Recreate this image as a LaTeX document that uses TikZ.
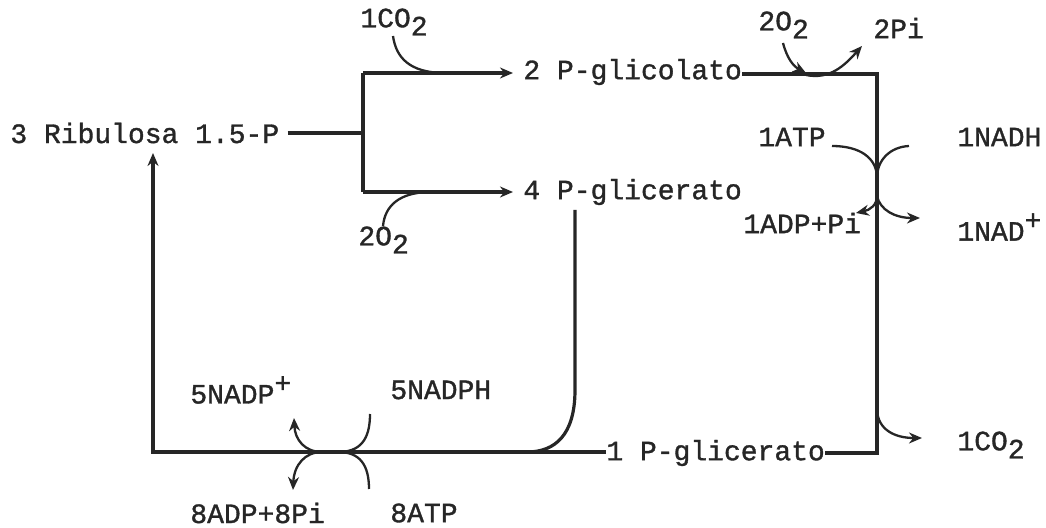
\documentclass[tikz,border=0pt]{standalone}
\usepackage{fontspec}
\setmainfont[FakeBold=1.2,BoldFont={Liberation Mono}]{Liberation Mono}
\usetikzlibrary{arrows.meta}
\newcommand\sbs[1]{\raisebox{-0.55ex}{#1}}
\newcommand\sps[1]{\raisebox{0.75ex}{#1}}
\begin{document}
\begin{tikzpicture}[x=0.5pt,y=-0.5pt,
  lbl/.style={inner sep=0pt,anchor=west,font=\fontsize{14}{16}\selectfont\bfseries,text=black!85},
  mainln/.style={line width=1.6pt,black!85},
  side/.style={line width=1.15pt,black!85},
  tip/.style={-{Stealth[length=6.5pt,width=5.5pt]}}]
\useasboundingbox (0,0) rectangle (1046,528);
% main texts
\node[lbl] (rib) at (10,133) {3 Ribulosa 1.5-P};
\node[lbl] (glc) at (523,72) {2 P-glicolato};
\node[lbl] (gl4) at (523,192) {4 P-glicerato};
\node[lbl] (gl1) at (606,453) {1 P-glicerato};
% small labels
\node[lbl] (co2a) at (360,22) {1CO\sbs{2}};
\node[lbl] (o2a) at (358,240) {2O\sbs{2}};
\node[lbl] (o2b) at (758,25) {2O\sbs{2}};
\node[lbl] (pi2) at (873,28) {2Pi};
\node[lbl] (atp1) at (758,137) {1ATP};
\node[lbl] (nadh) at (957,137) {1NADH};
\node[lbl] (adp1) at (743,223) {1ADP+Pi};
\node[lbl] (nad) at (957,227) {1NAD\sps{+}};
\node[lbl] (co2c) at (957,445) {1CO\sbs{2}};
\node[lbl] (nadp) at (190,390) {5NADP\sps{+}};
\node[lbl] (nadph) at (390,390) {5NADPH};
\node[lbl] (adp8) at (190,513) {8ADP+8Pi};
\node[lbl] (atp8) at (390,513) {8ATP};
% junction coordinates
\coordinate (j1) at (363,133);
\coordinate (jt) at (363,73);
\coordinate (jb) at (363,192);
\coordinate (cr1) at (877,74);
\coordinate (cr2) at (877,453);
\coordinate (g4d) at (575,210);
\coordinate (g4c) at (575,390);
\coordinate (bj) at (527,452);
\coordinate (bl) at (153,452);
\coordinate (blt) at (153,153);
% main connectors
\draw[mainln] ([xshift=4pt]rib.east) -- (j1);
\draw[mainln] (jt) -- (jb);
\draw[mainln,tip] (jt) -- ([xshift=-5pt]jt -| glc.west);
\draw[mainln,tip] (jb) -- ([xshift=-5pt]jb -| gl4.west);
\draw[mainln] (glc.east |- cr1) -- (cr1) -- (cr2) -- (gl1.east |- cr2);
\draw[mainln] (g4d) -- (g4c) .. controls (575,435) and (555,452) .. (bj);
\draw[mainln,tip] (gl1.west |- bl) -- (bl) -- (blt);
% side reactions
\draw[side] (393,36) .. controls (396,58) and (410,72) .. (442,73);
\draw[side] (383,226) .. controls (385,205) and (400,193) .. (428,192);
\draw[side,tip] (783,43) .. controls (787,58) and (793,66) .. (806,73);
\draw[side,tip] (806,75) .. controls (830,80) and (845,65) .. (862,46);
\draw[side] (832,146) .. controls (860,146) and (877,158) .. (877,178);
\draw[side] (909,146) .. controls (890,147) and (877,160) .. (877,178);
\draw[side,tip] (877,196) .. controls (877,205) and (870,210) .. (856,213);
\draw[side,tip] (877,196) .. controls (880,210) and (895,218) .. (920,218);
\draw[side,tip] (877,410) .. controls (878,430) and (895,438) .. (922,438);
\draw[side,tip] (322,452) .. controls (305,452) and (295,440) .. (294,418);
\draw[side,tip] (322,452) .. controls (305,452) and (294,465) .. (293,490);
\draw[side] (370,414) .. controls (370,440) and (360,452) .. (338,452);
\draw[side] (369,489) .. controls (369,465) and (360,452) .. (338,452);
\end{tikzpicture}
\end{document}
